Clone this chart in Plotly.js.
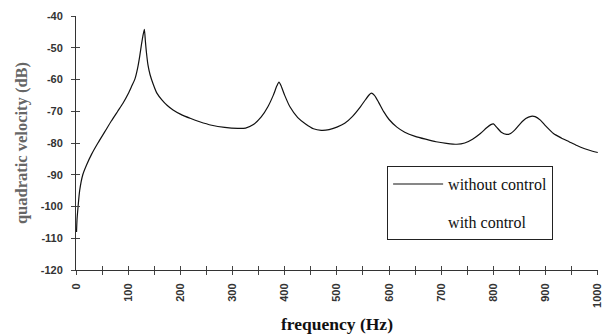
<!DOCTYPE html>
<html>
<head>
<meta charset="utf-8">
<script src="https://cdn.plot.ly/plotly-3.0.1.min.js"></script>
<style>html,body{margin:0;padding:0;background:#fff}#chart{width:603px;height:334px}</style>
</head>
<body>
<div id="chart"></div>
<script>
// Frequency (Hz) and quadratic velocity (dB)
const freq = [1, 2, 4, 7, 13, 20, 30, 42, 55, 68, 80, 90, 100, 107, 113, 118, 122, 125, 128, 131,
  133, 135, 138, 142, 148, 155, 165, 175, 186, 200, 220, 237, 260, 285, 310,
  325, 340, 355, 368, 378, 385, 389, 393, 400, 410, 425, 440, 455, 470, 485,
  500, 515, 530, 545, 555, 562, 566, 572, 580, 590, 600, 615, 630, 650, 670,
  690, 710, 730, 745, 760, 775, 787, 795, 800, 806, 815, 825, 832, 842, 852,
  862, 872, 880, 890, 900, 915, 930, 945, 960, 975, 990, 1000];
const withoutControl = [-108, -104, -100, -95, -90, -87, -83.5, -80, -76.5, -73, -70, -67.5, -64.5, -62, -59.8, -56.5, -52.8, -49.5, -46.5, -44.2,
  -48, -51.5, -55.5, -58.5, -61.5, -64.3, -66.5, -68.2, -69.6, -70.9, -72.3, -73.3, -74.4, -75.1, -75.4,
  -75.3, -74.2, -71.8, -68.5, -65, -62, -60.8, -62, -65, -68.6, -72, -74, -75.5, -76, -75.8,
  -75, -73.8, -71.6, -68.6, -66.3, -64.8, -64.3, -65, -67.2, -70.2, -72.6, -75, -76.6, -77.9, -78.8,
  -79.6, -80.1, -80.4, -80, -78.8, -77, -75.2, -74.2, -74, -75, -76.6, -77.3, -77.1, -75.7, -73.8,
  -72.3, -71.6, -71.7, -72.8, -74.6, -77, -78.4, -79.6, -80.8, -81.8, -82.6, -83];
// "with control" curve is not visible in the reference
const withControlFreq = [null];
const withControl = [null];
const seriesNames = ["without control", "with control"];
const yTicks = [-40, -50, -60, -70, -80, -90, -100, -110, -120];
const xTicks = [0, 100, 200, 300, 400, 500, 600, 700, 800, 900, 1000];

const tickFont = {family: "Liberation Sans, Arial, sans-serif", size: 11, color: "#333", weight: "bold"};
const data = [
  {x: freq, y: withoutControl, type: "scatter", mode: "lines", name: seriesNames[0],
   legendgroup: "a", line: {color: "#111", width: 1.2, shape: "spline", smoothing: 0.6}, hoverinfo: "skip"},
  {x: withControlFreq, y: withControl, type: "scatter", mode: "lines", name: seriesNames[1],
   legendgroup: "b", line: {color: "rgba(0,0,0,0)", width: 1}, hoverinfo: "skip"},
  {x: [], y: [], xaxis: "x2", yaxis: "y2", type: "scatter", showlegend: false}
];

const layout = {
  width: 603, height: 334,
  margin: {l: 76, r: 5, t: 16, b: 64},
  paper_bgcolor: "#fff", plot_bgcolor: "#fff",
  showlegend: true,
  xaxis: {
    range: [0, 1000.4], tickvals: xTicks, ticktext: xTicks.map(String),
    tickangle: -90, ticks: "outside", ticklen: 4, tickcolor: "#444", tickwidth: 1,
    ticklabelstandoff: 4, ticklabeloverflow: "allow",
    minor: {dtick: 50, ticks: "outside", ticklen: 4, tickcolor: "#444"},
    showline: true, linecolor: "#333", linewidth: 1, showgrid: false, zeroline: false,
    tickfont: tickFont,
    title: {text: "frequency (Hz)", font: {family: "Liberation Serif, Times New Roman, serif", size: 17.5, color: "#111", weight: "bold"}, standoff: 12}
  },
  yaxis: {
    range: [-120, -40], tickvals: yTicks, ticktext: yTicks.map(String),
    ticks: "outside", ticklen: 4, tickcolor: "#444", ticklabelstandoff: 6,
    showline: true, linecolor: "#333", linewidth: 1, showgrid: false, zeroline: false,
    tickfont: tickFont,
    title: {text: "quadratic velocity (dB)", font: {family: "Liberation Serif, Times New Roman, serif", size: 16.5, color: "#666", weight: "bold"}, standoff: 8}
  },
  xaxis2: {overlaying: "x", matches: "x", range: [0, 1000.4], dtick: 50, tick0: 0, ticks: "inside", ticklen: 4,
    tickcolor: "#444", showticklabels: false, showgrid: false, zeroline: false, showline: false, side: "bottom"},
  yaxis2: {overlaying: "y", matches: "y", range: [-120, -40], dtick: 10, tick0: -120, ticks: "inside", ticklen: 4,
    tickcolor: "#444", showticklabels: false, showgrid: false, zeroline: false, showline: false, side: "left"},
  legend: {
    x: 0.596, y: 0.409, xanchor: "left", yanchor: "top",
    bordercolor: "#222", borderwidth: 1, bgcolor: "#fff",
    font: {family: "Liberation Serif, Times New Roman, serif", size: 16, color: "#111"},
    traceorder: "grouped", tracegroupgap: 14, itemwidth: 50
  }
};
Plotly.newPlot("chart", data, layout, {displayModeBar: false, staticPlot: true});
</script>
</body>
</html>
